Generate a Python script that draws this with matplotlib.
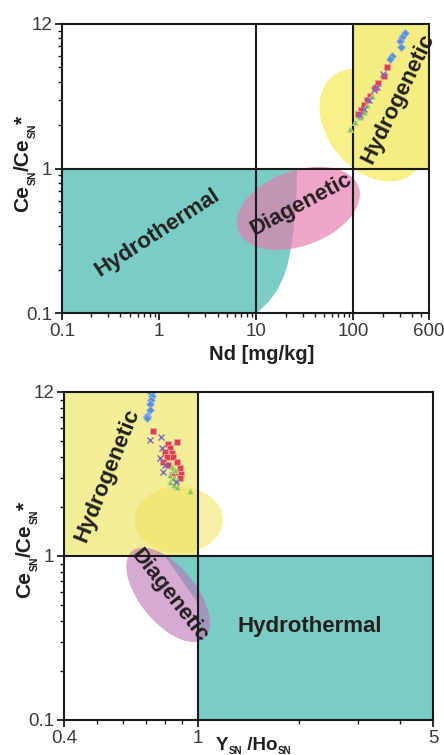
import numpy as np
import matplotlib
matplotlib.use("Agg")
import matplotlib.pyplot as plt
from matplotlib.patches import Polygon, Rectangle
from matplotlib.ticker import FixedLocator, NullFormatter, LogLocator
from matplotlib.transforms import IdentityTransform

plt.rcParams['font.family'] = ['Liberation Sans', 'DejaVu Sans']

# ---------------- data: top panel (Nd vs Ce anomaly) ----------------
nd_blue = [336, 320, 305, 312, 250, 236]
ce_blue_top = [8.7, 8.1, 7.6, 6.9, 6.0, 5.7]
nd_red = [222, 205, 178, 165, 147, 138, 128, 120, 112]
ce_red_top = [5.0, 4.4, 3.92, 3.59, 3.2, 2.99, 2.73, 2.56, 2.4]
nd_purple = [202, 173, 162, 144, 128, 118]
ce_purple_top = [4.5, 3.65, 3.52, 2.96, 2.59, 2.35]
nd_green = [156, 138, 128, 116, 105, 93]
ce_green_top = [3.2, 2.76, 2.45, 2.26, 2.11, 1.88]

# ---------------- data: bottom panel (Y/Ho vs Ce anomaly) ----------------
yho_blue = [0.728, 0.733, 0.728, 0.72, 0.72, 0.708, 0.704]
ce_blue_bot = [9.8, 9.4, 8.9, 8.5, 7.8, 7.1, 6.9]
yho_red = [0.736, 0.816, 0.864, 0.826, 0.798, 0.835, 0.807, 0.845, 0.788,
           0.864, 0.816, 0.884, 0.854, 0.894, 0.835, 0.884]
ce_red_bot = [5.81, 4.80, 4.94, 4.54, 4.32, 4.23, 4.03, 4.03, 3.76,
              3.76, 3.59, 3.43, 3.27, 3.15, 3.12, 2.98]
yho_green = [0.835, 0.854, 0.826, 0.845, 0.864, 0.826, 0.848, 0.864, 0.947]
ce_green_bot = [3.51, 3.35, 3.12, 2.98, 2.91, 2.84, 2.71, 2.65, 2.49]
yho_purple = [0.72, 0.775, 0.78, 0.771, 0.798, 0.788, 0.86]
ce_purple_bot = [5.1, 5.3, 4.54, 3.94, 3.59, 3.27, 2.84]

# region outlines (data coordinates)
hydrotherm_top_x = [0.1, 26.3, 26.0, 25.2, 23.9, 22.5, 20.7, 18.6, 16.3, 13.5, 10.2, 0.1]
hydrotherm_top_y = [1.0, 1.0, 0.7, 0.5, 0.353, 0.27, 0.207, 0.17, 0.143, 0.12, 0.1, 0.1]
hydrotherm_bot_x = [1.0, 0.798, 0.895, 1.0]
hydrotherm_bot_y = [1.0, 1.0, 0.714, 0.515]

y_ticks = [0.1, 1, 10]
y_ticklabels = ['0.1', '1', '12']
x1_ticks = [0.1, 1, 10, 100, 600]
x1_ticklabels = ['0.1', '1', '10', '100', '600']
x2_ticks = [0.4, 1, 5]
x2_ticklabels = ['0.4', '1', '5']

TEAL = '#7accc5'
YELLOW_RECT = '#f3ed84'
YELLOW_RECT2 = '#f2ee98'
TXT = '#231f20'
TICKC = '#3a3a3a'

W, H = 444, 755
fig = plt.figure(figsize=(W/100, H/100), dpi=100)
ax1 = fig.add_axes([62/W, (H-313)/H, (429-62)/W, (313-24)/H])
ax2 = fig.add_axes([64/W, 35/H, (433-64)/W, (720-392)/H])


def ellipse_poly(ax, cx, cy, w, h, ang, **kw):
    c = ax.transData.transform((cx, cy))
    t = np.linspace(0, 2*np.pi, 240)
    a = np.deg2rad(ang)
    ex = w/2*np.cos(t)
    ey = h/2*np.sin(t)
    px = c[0] + ex*np.cos(a) - ey*np.sin(a)
    py = c[1] + ex*np.sin(a) + ey*np.cos(a)
    pts = ax.transData.inverted().transform(np.column_stack([px, py]))
    return Polygon(pts, closed=True, **kw)


def rich_text(x0, y0_screen, pieces, rot=0):
    """Place consecutive text pieces (text, size, baseline shift px)."""
    renderer = fig.canvas.get_renderer()
    a = np.deg2rad(rot)
    d = np.array([np.cos(a), np.sin(a)])
    perp = np.array([-np.sin(a), np.cos(a)])
    pos = np.array([x0, H - y0_screen], dtype=float)
    for s, size, dy in pieces:
        p = pos + perp*dy
        t = fig.text(p[0], p[1], s, transform=IdentityTransform(), fontsize=size,
                     fontweight='bold', color=TXT, rotation=rot,
                     rotation_mode='anchor', ha='left', va='baseline')
        bb = t.get_window_extent(renderer)
        adv = bb.width if abs(np.cos(a)) > 0.5 else bb.height
        pos = pos + d*adv


def style(ax):
    ax.set_xscale('log')
    ax.set_yscale('log')
    for s in ax.spines.values():
        s.set_linewidth(1.5)
        s.set_color('#1a1a1a')
        s.set_zorder(6)
    ax.tick_params(which='major', direction='out', length=5, width=1.3,
                   labelsize=13.5, labelcolor=TICKC, pad=2, color='#1a1a1a')
    ax.tick_params(which='minor', direction='out', length=3, width=1.0,
                   color='#1a1a1a')
    ax.yaxis.set_minor_locator(LogLocator(base=10, subs=np.arange(2, 10)))
    ax.yaxis.set_minor_formatter(NullFormatter())
    ax.xaxis.set_minor_formatter(NullFormatter())


# ---------------- top panel ----------------
style(ax1)
ax1.set_xlim(0.1, 600)
ax1.set_ylim(0.1, 10)
ax1.set_xticks(x1_ticks)
ax1.set_xticklabels(x1_ticklabels)
ax1.xaxis.set_minor_locator(LogLocator(base=10, subs=np.arange(2, 10)))
ax1.set_yticks(y_ticks)
ax1.set_yticklabels(y_ticklabels)

ax1.add_patch(Polygon(np.column_stack([hydrotherm_top_x, hydrotherm_top_y]),
                      closed=True, fc=TEAL, ec='none', zorder=1))
ax1.add_patch(ellipse_poly(ax1, 27.1, 0.53, 128, 75, 20,
                           fc=(231/255, 123/255, 174/255), alpha=0.68,
                           ec='none', zorder=2))
ax1.add_patch(ellipse_poly(ax1, 157, 2.0, 126, 90, -50.6,
                           fc='#faf08a', ec='none', zorder=1))
ax1.add_patch(Rectangle((100, 1), 500, 9, fc=YELLOW_RECT, ec='none', zorder=2))
for xv in (10, 100):
    ax1.axvline(xv, color='#1a1a1a', lw=1.5, zorder=3)
ax1.axhline(1, color='#1a1a1a', lw=1.5, zorder=3)

ax1.plot(nd_blue, ce_blue_top, 'D', ms=4.5, mfc='#5b8fd4', mec='#9bbbe6', mew=0.6, zorder=4)
ax1.plot(nd_red, ce_red_top, 's', ms=5, mfc='#e0404d', mec='#f09aa0', mew=0.6, zorder=4)
ax1.plot(nd_green, ce_green_top, '^', ms=5, mfc='#8cc04a', mec='#c0dc9a', mew=0.6, zorder=4)
ax1.plot(nd_purple, ce_purple_top, 'x', ms=4.5, color='#7a6ab8', mew=1.0, zorder=5)

ax1.text(0.95, 0.36, 'Hydrothermal', rotation=33, fontsize=16, fontweight='bold',
         color=TXT, ha='center', va='center', zorder=7)
ax1.text(28.9, 0.56, 'Diagenetic', rotation=28, fontsize=16, fontweight='bold',
         color=TXT, ha='center', va='center', zorder=7)
ax1.text(290, 3.05, 'Hydrogenetic', rotation=64, fontsize=16, fontweight='bold',
         color=TXT, ha='center', va='center', zorder=7)

ax1.set_xlabel('Nd [mg/kg]', fontsize=14.5, fontweight='bold', color=TXT)
ax1.xaxis.set_label_coords(0.545, -0.11)

# ---------------- bottom panel ----------------
style(ax2)
ax2.set_xlim(0.4, 5)
ax2.set_ylim(0.1, 10)
ax2.set_xticks(x2_ticks)
ax2.set_xticklabels(x2_ticklabels)
ax2.xaxis.set_minor_locator(FixedLocator([0.5, 0.6, 0.7, 0.8, 0.9, 2, 3, 4]))
ax2.set_yticks(y_ticks)
ax2.set_yticklabels(y_ticklabels)

ax2.add_patch(Rectangle((0.4, 1), 0.6, 9, fc=YELLOW_RECT2, ec='none', zorder=1))
ax2.add_patch(Rectangle((1, 0.1), 4, 0.9, fc=TEAL, ec='none', zorder=1))
ax2.add_patch(Polygon(np.column_stack([hydrotherm_bot_x, hydrotherm_bot_y]),
                      closed=True, fc=TEAL, ec='none', zorder=1))
ax2.add_patch(ellipse_poly(ax2, 0.877, 1.66, 88, 67, 0,
                           fc=(240/255, 227/255, 90/255), alpha=0.55,
                           ec='none', zorder=2))
ax2.add_patch(ellipse_poly(ax2, 0.816, 0.58, 113, 56, -50.7,
                           fc=(187/255, 115/255, 180/255), alpha=0.6,
                           ec='none', zorder=2))
ax2.axvline(1, color='#1a1a1a', lw=1.5, zorder=3)
ax2.axhline(1, color='#1a1a1a', lw=1.5, zorder=3)

ax2.plot(yho_blue, ce_blue_bot, 'D', ms=4.5, mfc='#5b8fd4', mec='#9bbbe6', mew=0.6, zorder=4)
ax2.plot(yho_red, ce_red_bot, 's', ms=5, mfc='#e0404d', mec='#f09aa0', mew=0.6, zorder=4)
ax2.plot(yho_green, ce_green_bot, '^', ms=5, mfc='#8cc04a', mec='#c0dc9a', mew=0.6, zorder=4)
ax2.plot(yho_purple, ce_purple_bot, 'x', ms=4.5, color='#7a6ab8', mew=1.0, zorder=5)

ax2.text(0.54, 3.1, 'Hydrogenetic', rotation=68, fontsize=16, fontweight='bold',
         color=TXT, ha='center', va='center', zorder=7)
ax2.text(0.82, 0.57, 'Diagenetic', rotation=-52, fontsize=16, fontweight='bold',
         color=TXT, ha='center', va='center', zorder=7)
ax2.text(2.15, 0.37, 'Hydrothermal', rotation=0, fontsize=16, fontweight='bold',
         color=TXT, ha='center', va='center', zorder=7)

# ---------------- axis titles with small subscripts ----------------
ylab = [('Ce', 15, 0), ('SN', 7.5, -7.5), ('/Ce', 15, 0), ('SN', 7.5, -7.5), ('*', 15, 0)]
rich_text(28.5, 212, ylab, rot=90)
rich_text(30.5, 598, ylab, rot=90)
rich_text(216, 749.5, [('Y', 13.5, 0), ('SN', 7, -4), (' /Ho', 13.5, 0), ('SN', 7, -4)])

fig.savefig('out.png', dpi=100)
